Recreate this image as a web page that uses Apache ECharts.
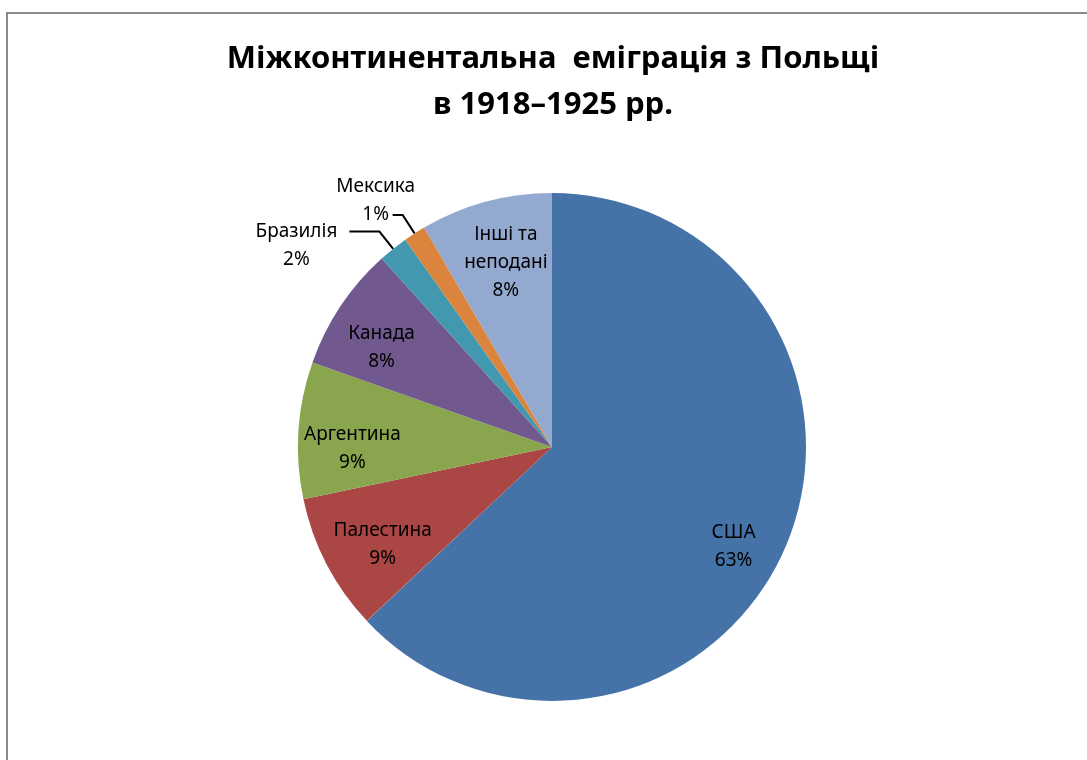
<!DOCTYPE html>
<html>
<head>
<meta charset="utf-8">
<script src="https://cdn.jsdelivr.net/npm/echarts@6/dist/echarts.min.js"></script>
<style>
  html, body { margin: 0; padding: 0; background: #fff; }
  #chart { position: absolute; left: 0; top: 0; width: 1087px; height: 760px; }
  #frame { position: absolute; left: 6px; top: 12px; width: 1100px; height: 800px;
           border: 2px solid #8a8a8a; pointer-events: none; }
</style>
</head>
<body>
<div id="chart"></div>
<div id="frame"></div>
<script>
// дані діаграми
var categories = ['США', 'Палестина', 'Аргентина', 'Канада', 'Бразилія', 'Мексика', 'Інші та\nнеподані'];
var shares = [63.0, 8.7, 8.7, 7.9, 1.9, 1.4, 8.4];
var colors = ['#4572A7', '#AA4643', '#89A54E', '#71588F', '#4198AF', '#DB843D', '#93A9CF'];
var outsideNames = ['Бразилія', 'Мексика']; // підписи з виносками

var FONT = '"Noto Sans", sans-serif';

function pctLabel(p) {
    return p.name + '\n' + Math.round(p.percent) + '%';
}
// зовнішній підпис: рядки по центру блоку
function outLabel(p) {
    return '{t|' + p.name + '}\n{t|' + Math.round(p.percent) + '%}';
}

// виноски: Бразилія чіпляється до першого рядка, Мексика до другого
var outStyle = {
    'Бразилія': { padding: [28, 0, 0, 0], width: 100, length: 22, length2: 30 },
    'Мексика': { padding: [0, 0, 28, 0], width: 28, length: 22, length2: 10 }
};
// зсув внутрішніх підписів (як у Excel "best fit")
var inOffset = {
    'США': [-2, 20],
    'Палестина': [8, 5],
    'Аргентина': [0, 15],
    'Канада': [-4, 11],
    'Інші та\nнеподані': [6, 9]
};

var baseData = [];
var labelData = [];
for (var i = 0; i < categories.length; i++) {
    var name = categories[i];
    var isOut = outsideNames.indexOf(name) >= 0;
    var item = {
        name: name,
        value: shares[i],
        itemStyle: { color: colors[i] },
        label: { show: isOut },
        labelLine: { show: isOut }
    };
    if (isOut) {
        var st = outStyle[name];
        item.label.padding = st.padding;
        item.label.rich = { t: { width: st.width } };
        item.labelLine.length = st.length;
        item.labelLine.length2 = st.length2;
    }
    baseData.push(item);
    labelData.push({
        name: name,
        value: shares[i],
        label: { show: !isOut, offset: inOffset[name] || [0, 9] }
    });
}

var chart = echarts.init(document.getElementById('chart'));
chart.setOption({
    animation: false,
    title: {
        text: 'Міжконтинентальна  еміграція з Польщі\nв 1918–1925 рр.',
        left: 548,
        textAlign: 'center',
        top: 31,
        textStyle: {
            fontFamily: FONT,
            fontWeight: 'bold',
            fontSize: 31,
            lineHeight: 46,
            color: '#000'
        }
    },
    series: [{
        type: 'pie',
        center: [552, 447],
        radius: [0, 254],
        startAngle: 90,
        clockwise: true,
        silent: true,
        avoidLabelOverlap: false,
        labelLayout: { hideOverlap: false },
        data: baseData,
        label: {
            position: 'outside',
            formatter: outLabel,
            distanceToLabelLine: 3,
            rich: {
                t: {
                    fontFamily: FONT,
                    fontSize: 19,
                    lineHeight: 28,
                    color: '#000',
                    width: 86,
                    align: 'center'
                }
            }
        },
        labelLine: {
            lineStyle: { color: '#000', width: 2 }
        }
    }, {
        type: 'pie',
        center: [552, 447],
        radius: [140, 254],
        startAngle: 90,
        clockwise: true,
        silent: true,
        avoidLabelOverlap: false,
        itemStyle: { color: 'rgba(0,0,0,0)' },
        data: labelData,
        label: {
            position: 'inside',
            formatter: pctLabel,
            fontFamily: FONT,
            fontSize: 19,
            lineHeight: 28,
            color: '#000'
        },
        labelLine: { show: false }
    }]
});
</script>
</body>
</html>
